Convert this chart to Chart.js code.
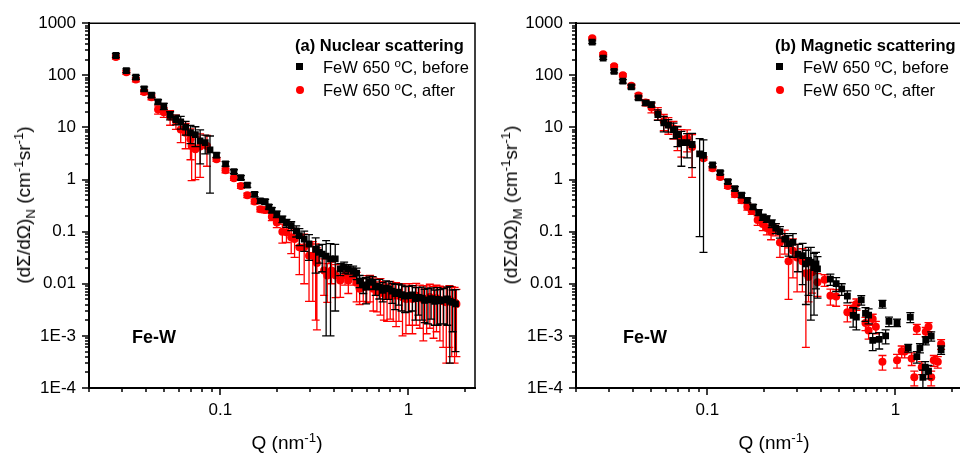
<!DOCTYPE html>
<html>
<head>
<meta charset="utf-8">
<script src="https://cdn.jsdelivr.net/npm/chart.js@4.4.1/dist/chart.umd.min.js"></script>
<style>
  body { margin: 0; width: 960px; height: 457px; overflow: hidden; position: relative; background: #fff; }
  canvas { position: absolute; top: 0; }
  .t { position: absolute; font-family: 'Liberation Sans', Arial, sans-serif; white-space: nowrap; color: #000; }
  .lg { font-size: 16.5px; line-height: 20px; }
  .b { font-weight: bold; }
  .ax { font-size: 19px; line-height: 24px; transform: translate(-50%, -50%); }
  .rot { transform: translate(-50%, -50%) rotate(-90deg); }
  sup, sub { font-size: 70%; line-height: 0; }
  .sq { position: absolute; width: 7px; height: 7px; background: #000; }
  .dot { position: absolute; width: 8px; height: 8px; border-radius: 50%; background: #ff0000; }
</style>
</head>
<body>
<canvas id="chartN" width="487" height="457" style="left:0"></canvas>
<canvas id="chartM" width="487" height="457" style="left:487px"></canvas>

<div class="t ax rot" style="left:24px;top:205px">(dΣ/dΩ)<sub>N</sub> (cm<sup>-1</sup>sr<sup>-1</sup>)</div>
<div class="t ax" style="left:287px;top:443px">Q (nm<sup>-1</sup>)</div>
<div class="t lg b" style="left:295px;top:35px">(a) Nuclear scattering</div>
<div class="sq" style="left:296px;top:63px"></div>
<div class="t lg" style="left:323px;top:57px">FeW 650 <sup>o</sup>C, before</div>
<div class="dot" style="left:296px;top:86px"></div>
<div class="t lg" style="left:323px;top:80px">FeW 650 <sup>o</sup>C, after</div>
<div class="t b" style="left:132px;top:326px;font-size:18px;line-height:22px">Fe-W</div>

<div class="t ax rot" style="left:511px;top:205px">(dΣ/dΩ)<sub>M</sub> (cm<sup>-1</sup>sr<sup>-1</sup>)</div>
<div class="t ax" style="left:774px;top:443px">Q (nm<sup>-1</sup>)</div>
<div class="t lg b" style="left:775px;top:35px">(b) Magnetic scattering</div>
<div class="sq" style="left:776px;top:63px"></div>
<div class="t lg" style="left:803px;top:57px">FeW 650 <sup>o</sup>C, before</div>
<div class="dot" style="left:776px;top:86px"></div>
<div class="t lg" style="left:803px;top:80px">FeW 650 <sup>o</sup>C, after</div>
<div class="t b" style="left:623px;top:326px;font-size:18px;line-height:22px">Fe-W</div>

<script>
// tick labels
const yTickValues = [1000, 100, 10, 1, 0.1, 0.01, 0.001, 0.0001];
const yTickLabels = ['1000', '100', '10', '1', '0.1', '0.01', '1E-3', '1E-4'];
const xTickValues = [0.1, 1];
const xTickLabels = ['0.1', '1'];

// (a) nuclear, before
const qNucBefore = [0.0278, 0.0316, 0.0355, 0.0393, 0.043, 0.0466, 0.050, 0.054, 0.058, 0.0615, 0.0653, 0.0693, 0.0736, 0.078, 0.083, 0.088,
  0.0953, 0.1065, 0.118, 0.1285, 0.139, 0.152, 0.163, 0.173, 0.181, 0.1877, 0.1995, 0.2135, 0.2245, 0.238, 0.253, 0.263, 0.279, 0.296,
  0.321, 0.335, 0.348, 0.365, 0.385, 0.408, 0.434, 0.455, 0.479, 0.508, 0.53, 0.55, 0.575, 0.595, 0.62, 0.645, 0.67, 0.70, 0.73, 0.76,
  0.787, 0.82, 0.85, 0.887, 0.92, 0.96, 1.0, 1.05, 1.09, 1.13, 1.18, 1.22, 1.27, 1.32, 1.38, 1.43, 1.48, 1.54, 1.61, 1.66, 1.72, 1.78];
const iNucBefore = [240, 123, 92, 55, 41.5, 31, 25.5, 17, 14.2, 12.8, 10.1, 7.9, 7.3, 5.5, 5.1, 3.7,
  2.95, 2.0, 1.42, 1.09, 0.78, 0.52, 0.39, 0.375, 0.30, 0.259, 0.217, 0.174, 0.146, 0.13, 0.104, 0.084, 0.072, 0.058,
  0.046, 0.040, 0.037, 0.034, 0.030, 0.030, 0.0193, 0.021, 0.0193, 0.0178, 0.016, 0.0114, 0.0095, 0.0086, 0.011, 0.0107, 0.009, 0.0086, 0.0075, 0.0082,
  0.008, 0.0072, 0.0065, 0.0069, 0.0062, 0.0058, 0.0059, 0.0061, 0.0052, 0.0055, 0.0053, 0.0048, 0.0049, 0.0052, 0.0046, 0.005, 0.0047, 0.0049, 0.0051, 0.0046, 0.0044, 0.0041];
const eNucBefore = [20, 10, 8, 5, 4, 3, 3.5, 3, 3, 3.5, 3, 3, 3, 3.5, 2, 3.15,
  0.3, 0.2, 0.12, 0.1, 0.07, 0.05, 0.04, 0.04, 0.03, 0.03, 0.03, 0.025, 0.025, 0.025, 0.025, 0.03, 0.03, 0.03,
  0.03, 0.015, 0.02, 0.033, 0.029, 0.027, 0.005, 0.005, 0.004, 0.004, 0.004, 0.003, 0.003, 0.0045, 0.003, 0.003, 0.003, 0.0035, 0.003, 0.0032,
  0.003, 0.003, 0.0033, 0.003, 0.0032, 0.003, 0.003, 0.0031, 0.0032, 0.003, 0.0033, 0.003, 0.0032, 0.0031, 0.003, 0.0034, 0.003, 0.0032, 0.0035, 0.0043, 0.0032, 0.0036];

// (a) nuclear, after
const qNucAfter = [0.0278, 0.0316, 0.0355, 0.0393, 0.043, 0.0466, 0.050, 0.054, 0.058, 0.0615, 0.0653, 0.0693, 0.0703, 0.0736, 0.078, 0.0848,
  0.0953, 0.1065, 0.118, 0.1285, 0.139, 0.152, 0.163, 0.173, 0.1877, 0.1995, 0.2135, 0.2245, 0.238, 0.248, 0.263, 0.279, 0.296, 0.31,
  0.321, 0.326, 0.356, 0.37, 0.39, 0.41, 0.434, 0.46, 0.479, 0.508, 0.53, 0.55, 0.575, 0.6, 0.625, 0.65, 0.68, 0.71, 0.74, 0.77,
  0.80, 0.83, 0.86, 0.89, 0.93, 0.97, 1.01, 1.05, 1.1, 1.15, 1.2, 1.25, 1.3, 1.36, 1.41, 1.47, 1.53, 1.59, 1.65, 1.7, 1.76, 1.8];
const iNucAfter = [225, 114, 83, 48, 38, 22, 19.6, 16, 13.2, 9.1, 7.9, 5.9, 4.4, 3.8, 4.3, 4.4,
  2.44, 1.5, 1.06, 0.755, 0.50, 0.38, 0.27, 0.26, 0.193, 0.15, 0.10, 0.097, 0.078, 0.072, 0.05, 0.05, 0.0346, 0.0346,
  0.030, 0.025, 0.018, 0.0144, 0.018, 0.0144, 0.0115, 0.0144, 0.0115, 0.0144, 0.0105, 0.008, 0.0086, 0.0093, 0.0095, 0.008, 0.0069, 0.0075, 0.0065, 0.0059,
  0.0066, 0.0059, 0.006, 0.0059, 0.0055, 0.0051, 0.0058, 0.0051, 0.0059, 0.0054, 0.005, 0.0051, 0.0056, 0.0049, 0.0053, 0.0049, 0.0046, 0.0044, 0.0049, 0.0046, 0.0044, 0.0041];
const eNucAfter = [20, 10, 8, 5, 4, 4, 4, 5, 4, 4, 4, 3.5, 3.45, 2.8, 3.2, 2.6,
  0.2, 0.15, 0.1, 0.08, 0.05, 0.04, 0.03, 0.03, 0.03, 0.03, 0.04, 0.035, 0.04, 0.04, 0.035, 0.04, 0.03, 0.03,
  0.028, 0.0237, 0.012, 0.01, 0.008, 0.009, 0.006, 0.005, 0.005, 0.005, 0.006, 0.004, 0.004, 0.005, 0.005, 0.005, 0.004, 0.005, 0.0045, 0.004,
  0.0045, 0.004, 0.0045, 0.004, 0.0045, 0.004, 0.0042, 0.004, 0.0043, 0.004, 0.0042, 0.004, 0.0042, 0.004, 0.0041, 0.0041, 0.004, 0.0041, 0.0043, 0.0042, 0.0041, 0.0037];

// (b) magnetic, before
const qMagBefore = [0.0244, 0.0279, 0.0319, 0.0355, 0.0394, 0.043, 0.0469, 0.0504, 0.0545, 0.0586, 0.062, 0.066, 0.0693, 0.0727, 0.078, 0.0829,
  0.0909, 0.0953, 0.1065, 0.117, 0.1285, 0.140, 0.152, 0.163, 0.175, 0.1873, 0.197, 0.207, 0.220, 0.231, 0.243, 0.258, 0.2705, 0.285,
  0.303, 0.321, 0.334, 0.345, 0.355, 0.369, 0.378, 0.385, 0.451, 0.484, 0.518, 0.555, 0.596, 0.62, 0.658, 0.693, 0.72, 0.757,
  0.82, 0.853, 0.887, 0.924, 1.02, 1.17, 1.2, 1.3, 1.35, 1.4, 1.44, 1.45, 1.5, 1.55, 1.75];
const iMagBefore = [433, 214, 119, 77, 60, 37, 29.5, 27.5, 17.7, 12.2, 11.1, 9.1, 7.3, 5.1, 5.1, 4.7,
  3.1, 2.9, 1.9, 1.36, 0.91, 0.67, 0.50, 0.40, 0.30, 0.233, 0.19, 0.176, 0.144, 0.117, 0.10, 0.072, 0.059, 0.062,
  0.037, 0.0346, 0.024, 0.028, 0.026, 0.0205, 0.024, 0.0193, 0.0123, 0.0101, 0.008, 0.0058, 0.00247, 0.0023, 0.0049, 0.0027, 0.0025, 0.00082,
  0.00086, 0.0041, 0.001, 0.0019, 0.0018, 0.00059, 0.0023, 0.0004, 0.00059, 0.00016, 0.00025, 0.00082, 0.00021, 0.00099, 0.00054];
const eMagBefore = [25, 12, 8, 6, 5, 3, 3, 3, 4, 4, 3, 3, 3, 3.3, 2.5, 3.0,
  3.02, 2.86, 0.15, 0.1, 0.08, 0.06, 0.05, 0.04, 0.03, 0.03, 0.025, 0.025, 0.025, 0.025, 0.025, 0.02, 0.025, 0.03,
  0.02, 0.025, 0.02, 0.022, 0.024, 0.018, 0.016, 0.014, 0.003, 0.003, 0.002, 0.0015, 0.001, 0.001, 0.001, 0.0008, 0.0008, 0.0003,
  0.0003, 0.0007, 0.0003, 0.0004, 0.0003, 0.0001, 0.0005, 0.0001, 0.00012, 0.00006, 0.00007, 0.00015, 0.00006, 0.0002, 0.0001];

// (b) magnetic, after
const qMagAfter = [0.0244, 0.0279, 0.0319, 0.0355, 0.0394, 0.043, 0.0469, 0.0504, 0.0545, 0.0586, 0.062, 0.066, 0.0693, 0.0727, 0.078, 0.0829,
  0.0953, 0.1065, 0.117, 0.1285, 0.140, 0.152, 0.163, 0.172, 0.185, 0.197, 0.207, 0.218, 0.231, 0.243, 0.258, 0.27, 0.285, 0.30,
  0.32, 0.334, 0.345, 0.36, 0.385, 0.42, 0.451, 0.484, 0.555, 0.596, 0.62, 0.693, 0.72, 0.757, 0.787, 0.853,
  1.02, 1.08, 1.12, 1.22, 1.26, 1.30, 1.38, 1.45, 1.5, 1.55, 1.6, 1.68, 1.75];
const iMagAfter = [517, 255, 149, 100, 63, 41, 30, 24, 19, 13.2, 11.4, 9.5, 7.1, 5.9, 6.2, 4.2,
  2.55, 1.64, 1.12, 0.755, 0.52, 0.40, 0.30, 0.25, 0.167, 0.14, 0.117, 0.10, 0.113, 0.062, 0.072, 0.027, 0.043, 0.032,
  0.027, 0.0159, 0.0135, 0.0166, 0.0107, 0.0119, 0.0059, 0.0057, 0.00285, 0.0034, 0.0041, 0.00176, 0.00127, 0.0021, 0.0015, 0.00032,
  0.00034, 0.00051, 0.0005, 0.00037, 0.00016, 0.00137, 0.00025, 0.0012, 0.0015, 0.00016, 0.00034, 0.00032, 0.0007];
const eMagAfter = [25, 15, 10, 7, 5, 4, 4, 5, 5, 4.5, 4, 3.5, 3.5, 3.2, 2.8, 3.1,
  0.2, 0.15, 0.1, 0.08, 0.06, 0.05, 0.04, 0.035, 0.035, 0.035, 0.03, 0.03, 0.03, 0.03, 0.035, 0.022, 0.03, 0.025,
  0.02, 0.0153, 0.009, 0.01, 0.005, 0.003, 0.002, 0.002, 0.001, 0.001, 0.001, 0.0005, 0.0004, 0.0005, 0.0004, 0.0001,
  0.0001, 0.00013, 0.00012, 0.0001, 0.00005, 0.0003, 0.00007, 0.00025, 0.0003, 0.00005, 0.00008, 0.00008, 0.00015];

Chart.defaults.font.family = "'Liberation Sans', Arial, sans-serif";
Chart.defaults.font.size = 17;
Chart.defaults.color = '#000';

function tickLabel(values, labels) {
    return v => {
        const k = values.findIndex(t => Math.abs(Math.log10(t) - Math.log10(v)) < 1e-6);
        return k >= 0 ? labels[k] : '';
    };
}

function isDecade(v) {
    const l = Math.log10(v);
    return Math.abs(l - Math.round(l)) < 1e-6;
}

function isWholeStep(v) {
    const p = Math.pow(10, Math.floor(Math.log10(v) + 1e-9));
    const s = v / p;
    return Math.abs(s - Math.round(s)) < 1e-6;
}

// vertical error bars, drawn under each dataset's own markers
const errorBars = {
    id: 'errorBars',
    beforeDatasetDraw(chart, args) {
        const ds = chart.data.datasets[args.index];
        const { ctx, chartArea: a, scales: { x, y } } = chart;
        ctx.save();
        ctx.beginPath();
        ctx.rect(a.left, a.top, a.right - a.left, a.bottom - a.top);
        ctx.clip();
        ctx.strokeStyle = ds.backgroundColor;
        ctx.lineWidth = 1.3;
        ctx.beginPath();
        ds.data.forEach((p, i) => {
            const e = ds.err[i];
            const px = x.getPixelForValue(p.x);
            const hi = y.getPixelForValue(p.y + e);
            const low = p.y - e;
            const lo = low > 0 ? y.getPixelForValue(low) : a.bottom + 10;
            ctx.moveTo(px, hi); ctx.lineTo(px, lo);
            ctx.moveTo(px - 4, hi); ctx.lineTo(px + 4, hi);
            if (low > 0) { ctx.moveTo(px - 4, lo); ctx.lineTo(px + 4, lo); }
        });
        ctx.stroke();
        ctx.restore();
    }
};

// outward ticks (long at decades) and the top/right frame
const axisTicks = {
    id: 'axisTicks',
    afterDraw(chart) {
        const { ctx, chartArea: a, scales: { x, y } } = chart;
        ctx.save();
        ctx.strokeStyle = '#000';
        ctx.lineWidth = 1.5;
        ctx.beginPath();
        ctx.moveTo(a.left, a.top);
        ctx.lineTo(a.right, a.top);
        ctx.lineTo(a.right, a.bottom);
        ctx.stroke();
        ctx.beginPath();
        y.ticks.forEach(t => {
            if (!isWholeStep(t.value)) return;
            const py = Math.round(y.getPixelForValue(t.value));
            const len = isDecade(t.value) ? 7 : 4;
            ctx.moveTo(a.left, py); ctx.lineTo(a.left - len, py);
        });
        x.ticks.forEach(t => {
            if (!isWholeStep(t.value)) return;
            const px = Math.round(x.getPixelForValue(t.value));
            const len = isDecade(t.value) ? 7 : 4;
            ctx.moveTo(px, a.bottom); ctx.lineTo(px, a.bottom + len);
        });
        ctx.stroke();
        ctx.restore();
    }
};

function makePanel(id, qB, iB, eB, qA, iA, eA) {
    return new Chart(document.getElementById(id), {
        type: 'scatter',
        data: {
            datasets: [{
                data: qB.map((q, i) => ({ x: q, y: iB[i] })),
                err: eB,
                pointStyle: 'rect',
                pointRadius: 4.8,
                backgroundColor: '#000000',
                borderWidth: 0
            }, {
                data: qA.map((q, i) => ({ x: q, y: iA[i] })),
                err: eA,
                pointStyle: 'circle',
                pointRadius: 4,
                backgroundColor: '#ff0000',
                borderWidth: 0
            }]
        },
        options: {
            responsive: false,
            animation: false,
            events: [],
            layout: { padding: { top: 22, right: 2, left: 0, bottom: 0 } },
            plugins: { legend: { display: false }, tooltip: { enabled: false } },
            scales: {
                x: {
                    type: 'logarithmic',
                    min: 0.02,
                    max: 2.26,
                    afterFit: s => { s.height = 69; },
                    border: { display: true, color: '#000', width: 2 },
                    grid: { display: true, drawOnChartArea: false, drawTicks: false },
                    ticks: { autoSkip: false, maxRotation: 0, padding: 12, callback: tickLabel(xTickValues, xTickLabels) }
                },
                y: {
                    type: 'logarithmic',
                    min: 0.0001,
                    max: 1000,
                    afterFit: s => { s.width = 89; },
                    border: { display: true, color: '#000', width: 2 },
                    grid: { display: true, drawOnChartArea: false, drawTicks: false },
                    ticks: { autoSkip: false, padding: 13, callback: tickLabel(yTickValues, yTickLabels) }
                }
            }
        },
        plugins: [errorBars, axisTicks]
    });
}

makePanel('chartN', qNucBefore, iNucBefore, eNucBefore, qNucAfter, iNucAfter, eNucAfter);
makePanel('chartM', qMagBefore, iMagBefore, eMagBefore, qMagAfter, iMagAfter, eMagAfter);
</script>
</body>
</html>
